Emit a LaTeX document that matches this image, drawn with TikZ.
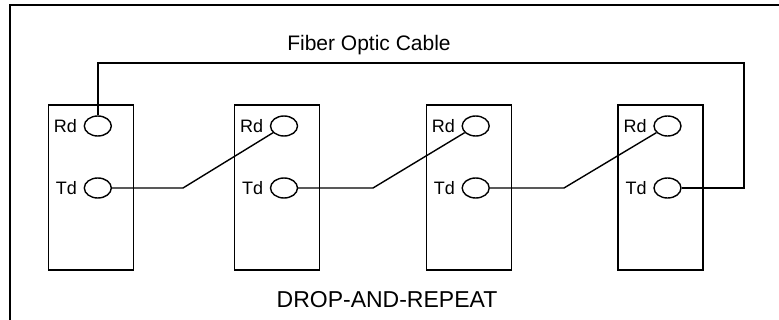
\documentclass[tikz,border=0pt]{standalone}
\usepackage{fontspec}
\setmainfont{Liberation Sans}
\usetikzlibrary{shapes.geometric,positioning}

\begin{document}
\begin{tikzpicture}[x=1pt,y=-1pt,line width=1.4pt]
\tikzstyle{every node}+=[inner sep=0pt]
\tikzstyle{unit}=[draw, minimum width=85pt, minimum height=165pt]
\tikzstyle{port}=[draw, ellipse, minimum width=27pt, minimum height=20pt]
\tikzstyle{pin}=[font=\fontsize{18}{21}\selectfont]
\tikzstyle{caption}=[anchor=base]
\useasboundingbox (0,0) rectangle (779,320);
\clip (0,0) rectangle (779,320);
\draw [line width=1.8pt] (10,330) -- (10,5) -- (790,5);
\foreach \i/\x in {1/90.8,2/277,3/468.7,4/660.5}
{
\node [unit] (u\i) at (\x,187.5) {};
\node [port] (rd\i) at ({\x+7},126) {};
\node [port] (td\i) at ({\x+7},188) {};
\node [pin, left=6pt of rd\i] (rdl\i) {Rd};
\node [pin, left=6pt of td\i] (tdl\i) {Td};
}
\coordinate (k1) at (183,188);
\coordinate (k2) at (373,188);
\coordinate (k3) at (564,188);
\coordinate (f) at (744,63);
\draw (td1) -- (k1) -- (rd2);
\draw (td2) -- (k2) -- (rd3);
\draw (td3) -- (k3) -- (rd4);
\draw (rd1.north) |- (f) |- (td4.east);
\node [caption, font=\fontsize{21}{25}\selectfont] (fiber) at (369,51) {Fiber Optic Cable};
\node [caption, font=\fontsize{23}{27}\selectfont] (title) at (387,308) {DROP-AND-REPEAT};
\end{tikzpicture}
\end{document}
